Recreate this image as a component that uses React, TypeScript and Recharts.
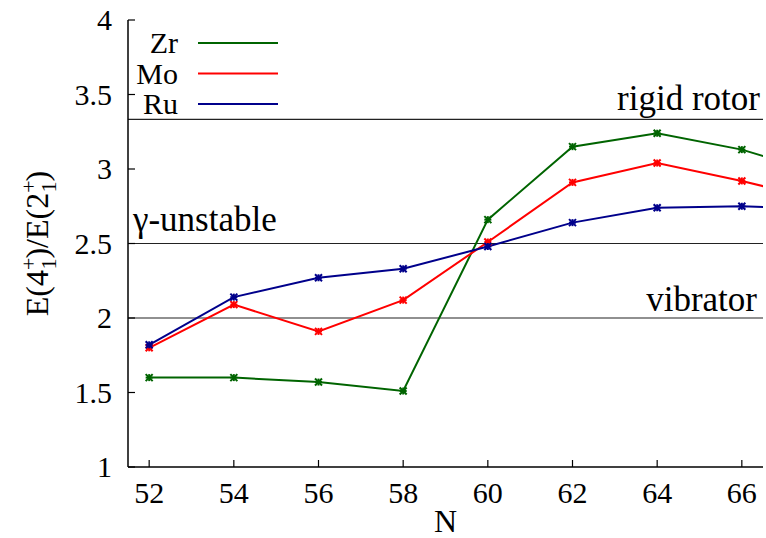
import { LineChart, Line, XAxis, YAxis, ReferenceLine, Legend } from 'recharts';

// neutron number N and E(4+)/E(2+) ratios (last point is off the right edge)
const nValues = [52, 54, 56, 58, 60, 62, 64, 66, 68];
const zrRatio = [1.6, 1.6, 1.57, 1.51, 2.66, 3.15, 3.24, 3.13, 2.96];
const moRatio = [1.8, 2.09, 1.91, 2.12, 2.51, 2.91, 3.04, 2.92, 2.78];
const ruRatio = [1.82, 2.14, 2.27, 2.33, 2.48, 2.64, 2.74, 2.75, 2.73];

const seriesNames = ['Zr', 'Mo', 'Ru'];
const xTicks = [52, 54, 56, 58, 60, 62, 64, 66];
const yTicks = [1, 1.5, 2, 2.5, 3, 3.5, 4];

const limits = [
    { y: 10 / 3, text: 'rigid rotor', side: 'right', dx: -3, dy: -9 },
    { y: 2.5, text: 'γ-unstable', side: 'left', dx: 5, dy: -13 },
    { y: 2, text: 'vibrator', side: 'right', dx: -6, dy: -7 },
];

const FONT = 'Liberation Serif';
// text is laid out at a size the serif font renders at, then scaled up
const BASE = 26;
const TICK_LEN = 7;

const chartData = nValues.map((n, i) => ({
    n,
    zr: zrRatio[i],
    mo: moRatio[i],
    ru: ruRatio[i],
}));

const SerifText = ({ x, y, size, anchor = 'start', rotate = 0, children }: any) => (
    <text
        transform={`translate(${x} ${y})${rotate ? ` rotate(${rotate})` : ''} scale(${size / BASE})`}
        x={0}
        y={0}
        textAnchor={anchor}
        fontFamily={FONT}
        fontSize={BASE}
        fill='#000'
    >
        {children}
    </text>
);

const BottomTick = ({ x, y, payload }: any) => (
    <g>
        <line x1={x} x2={x} y1={y} y2={y - TICK_LEN} stroke='#000' strokeWidth={1.2} />
        <SerifText x={x} y={y + 36} size={30} anchor='middle'>
            {payload.value}
        </SerifText>
    </g>
);

const TopTick = ({ x, y }: any) => (
    <line x1={x} x2={x} y1={y} y2={y + TICK_LEN} stroke='#000' strokeWidth={1.2} />
);

const LeftTick = ({ x, y, payload }: any) => (
    <g>
        <line x1={x} x2={x + TICK_LEN} y1={y} y2={y} stroke='#000' strokeWidth={1.2} />
        <SerifText x={x - 16} y={y + 10} size={30} anchor='end'>
            {payload.value}
        </SerifText>
    </g>
);

const RightTick = ({ x, y }: any) => (
    <line x1={x} x2={x - TICK_LEN} y1={y} y2={y} stroke='#000' strokeWidth={1.2} />
);

const Marker = ({ cx, cy, stroke, index }: any) => {
    if (cx == null || cy == null) return <g key={`m-${index}`} />;
    const h = 3.5;
    return (
        <g key={`m-${index}`} stroke={stroke} strokeWidth={2}>
            <line x1={cx - h} x2={cx + h} y1={cy - h} y2={cy + h} />
            <line x1={cx - h} x2={cx + h} y1={cy + h} y2={cy - h} />
            <line x1={cx - h} x2={cx + h} y1={cy} y2={cy} />
            <line x1={cx} x2={cx} y1={cy - h} y2={cy + h} />
        </g>
    );
};

const LimitLabel = ({ viewBox, text, side, dx, dy }: any) => {
    const { x, y, width } = viewBox;
    const right = side === 'right';
    return (
        <SerifText x={right ? x + width + dx : x + dx} y={y + dy} size={35} anchor={right ? 'end' : 'start'}>
            {text}
        </SerifText>
    );
};

const XLabel = ({ viewBox }: any) => (
    <SerifText x={viewBox.x + viewBox.width / 2} y={viewBox.y + 65} size={32} anchor='middle'>
        N
    </SerifText>
);

const YLabel = ({ viewBox }: any) => {
    const cy = viewBox.y + viewBox.height / 2;
    const k = 32 / BASE;
    const s = 22 / k;
    return (
        <SerifText x={48} y={cy} size={32} anchor='middle' rotate={-90}>
            E(4
            <tspan dy={-12 / k} fontSize={s}>+</tspan>
            <tspan dx={-12 / k} dy={20 / k} fontSize={s}>1</tspan>
            <tspan dy={-8 / k}>)/E(2</tspan>
            <tspan dy={-12 / k} fontSize={s}>+</tspan>
            <tspan dx={-12 / k} dy={20 / k} fontSize={s}>1</tspan>
            <tspan dy={-8 / k}>)</tspan>
        </SerifText>
    );
};

const LegendBox = ({ payload }: any) => {
    const items = [...(payload || [])].sort(
        (a: any, b: any) => seriesNames.indexOf(a.value) - seriesNames.indexOf(b.value),
    );
    return (
        <svg width={170} height={100} style={{ display: 'block' }}>
            {items.map((entry: any, i: number) => {
                const y = 23 + i * 30.5;
                return (
                    <g key={entry.value}>
                        <SerifText x={50} y={y + 10} size={30} anchor='end'>
                            {entry.value}
                        </SerifText>
                        <line x1={70} x2={150} y1={y} y2={y} stroke={entry.color} strokeWidth={2} />
                    </g>
                );
            })}
        </svg>
    );
};

export default function App() {
    return (
        <div style={{ position: 'absolute', left: 0, top: 0, background: '#fff' }}>
            <LineChart width={766} height={538} data={chartData} margin={{ top: 20, right: 3, left: 0, bottom: 0 }}>
                <XAxis
                    dataKey='n'
                    type='number'
                    domain={[51.5, 66.5]}
                    ticks={xTicks}
                    allowDataOverflow
                    height={71}
                    tickSize={0}
                    tickMargin={0}
                    tickLine={false}
                    axisLine={{ stroke: '#000', strokeWidth: 1.5 }}
                    tick={<BottomTick />}
                    interval={0}
                    label={<XLabel />}
                />
                <XAxis
                    xAxisId='top'
                    orientation='top'
                    dataKey='n'
                    type='number'
                    domain={[51.5, 66.5]}
                    ticks={xTicks}
                    allowDataOverflow
                    height={0}
                    tickSize={0}
                    tickMargin={0}
                    tickLine={false}
                    axisLine={{ stroke: '#000', strokeWidth: 1.5 }}
                    tick={<TopTick />}
                    interval={0}
                />
                <YAxis
                    type='number'
                    domain={[1, 4]}
                    ticks={yTicks}
                    allowDataOverflow
                    width={128}
                    tickSize={0}
                    tickMargin={0}
                    tickLine={false}
                    axisLine={{ stroke: '#000', strokeWidth: 1.5 }}
                    tick={<LeftTick />}
                    interval={0}
                    label={<YLabel />}
                />
                <YAxis
                    yAxisId='right'
                    orientation='right'
                    type='number'
                    domain={[1, 4]}
                    ticks={yTicks}
                    allowDataOverflow
                    width={0}
                    tickSize={0}
                    tickMargin={0}
                    tickLine={false}
                    axisLine={{ stroke: '#000', strokeWidth: 1.5 }}
                    tick={<RightTick />}
                    interval={0}
                />
                {limits.map((l) => (
                    <ReferenceLine
                        key={l.text}
                        y={l.y}
                        stroke='#222'
                        strokeWidth={1.2}
                        label={<LimitLabel text={l.text} side={l.side} dx={l.dx} dy={l.dy} />}
                    />
                ))}
                <Legend
                    layout='vertical'
                    verticalAlign='middle'
                    align='center'
                    width={170}
                    height={100}
                    wrapperStyle={{ left: 128, top: 20, width: 170, height: 100 }}
                    content={<LegendBox />}
                />
                <Line
                    type='linear'
                    dataKey='zr'
                    name='Zr'
                    stroke='#006400'
                    strokeWidth={2}
                    dot={Marker}
                    activeDot={false}
                    isAnimationActive={false}
                />
                <Line
                    type='linear'
                    dataKey='mo'
                    name='Mo'
                    stroke='#ff0000'
                    strokeWidth={2}
                    dot={Marker}
                    activeDot={false}
                    isAnimationActive={false}
                />
                <Line
                    type='linear'
                    dataKey='ru'
                    name='Ru'
                    stroke='#00008b'
                    strokeWidth={2}
                    dot={Marker}
                    activeDot={false}
                    isAnimationActive={false}
                />
            </LineChart>
        </div>
    );
}
